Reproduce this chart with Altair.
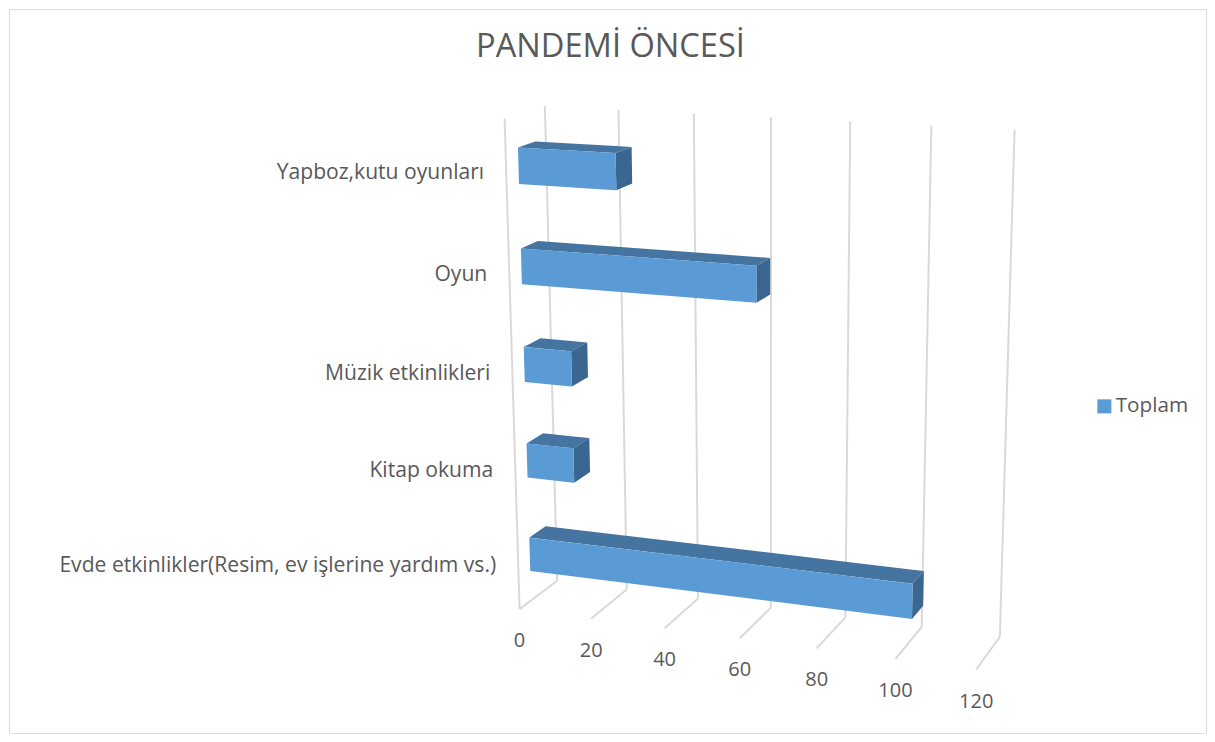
import numpy as np
import pandas as pd
import altair as alt

# ---- data
CATEGORIES = ["Evde etkinlikler(Resim, ev işlerine yardım vs.)", "Kitap okuma", "Müzik etkinlikleri", "Oyun", "Yapboz,kutu oyunları"]
VALUES = [102, 13, 13, 62, 26]
TICKS = [0, 20, 40, 60, 80, 100, 120]
SERIES = "Toplam"
TITLE = "PANDEMİ ÖNCESİ"

# ---- camera of the 3-D scene: (value, category height, depth) seen on the page
BACK_BOTTOM = [(557, 580), (627, 590), (698, 599), (771, 608), (846, 617), (922, 627), (999, 637)]
BACK_TOP = [(544.5, 106), (618, 110), (694, 113), (771.5, 117), (850.5, 121), (931.5, 125), (1013.7, 130)]
FRONT_BOTTOM = [(519.5, 608), (590.5, 619), (664, 628), (740, 638), (817, 648), (896, 659), (976, 670)]
FRONT_TOP_LEFT = (504.5, 118)
BAR_HALF, D0, D1 = 0.18, 0.27, 0.70
BAR_LEFT = [((538, 570.7), 529.8), ((444.3, 477.3), 527), ((347.3, 382), 524.3), ((249, 284), 521.6), ((147.7, 184), 518.6)]

cal = []
for t, a, b, c in zip(TICKS, BACK_BOTTOM, BACK_TOP, FRONT_BOTTOM):
    cal += [((t, 0, 0), a), ((t, 5, 0), b), ((t, 0, 1), c)]
cal.append(((0, 5, 1), FRONT_TOP_LEFT))
for i, ((top, bot), x) in enumerate(BAR_LEFT):
    cal += [((0, i + .5 + BAR_HALF, D1), (x, top)), ((0, i + .5 - BAR_HALF, D1), (x, bot))]
A, B = [], []
for (v, h, d), (x, y) in cal:
    A.append([v, h, d, 1, 0, 0, 0, 0, -x * v, -x * h, -x * d])
    B.append(x)
    A.append([0, 0, 0, 0, v, h, d, 1, -y * v, -y * h, -y * d])
    B.append(y)
sol = np.linalg.lstsq(np.array(A, float), np.array(B, float), rcond=None)[0]
P = np.append(sol, 1.0).reshape(3, 4)


def project(v, h, d):
    u = P @ np.array([v, h, d, 1.0])
    return float(u[0] / u[2]), float(u[1] / u[2])


def face_rows(pts, face):
    """Slice a convex quadrilateral into x / y / y2 rows for an area mark."""
    rows = []
    n = len(pts)
    for x in sorted({p[0] for p in pts}):
        ys = []
        for i in range(n):
            (x1, y1), (x2, y2) = pts[i], pts[(i + 1) % n]
            if min(x1, x2) <= x <= max(x1, x2):
                if x1 == x2:
                    ys += [y1, y2]
                else:
                    ys.append(y1 + (y2 - y1) * (x - x1) / (x2 - x1))
        rows.append({"face": face, "x": x, "y": min(ys), "y2": max(ys), "series": SERIES})
    return rows


front, top, side = [], [], []
for i, (cat, val) in enumerate(zip(CATEGORIES, VALUES)):
    lo, hi = i + .5 - BAR_HALF, i + .5 + BAR_HALF
    front += face_rows([project(0, hi, D1), project(val, hi, D1), project(val, lo, D1), project(0, lo, D1)], cat)
    top += face_rows([project(0, hi, D1), project(0, hi, D0), project(val, hi, D0), project(val, hi, D1)], cat)
    side += face_rows([project(val, hi, D1), project(val, hi, D0), project(val, lo, D0), project(val, lo, D1)], cat)

lines = []
for t in TICKS:
    a, b, c = project(t, 0, 0), project(t, 5, 0), project(t, 0, 1)
    lines.append({"x": a[0], "y": a[1], "x2": b[0], "y2": b[1]})
    lines.append({"x": a[0], "y": a[1], "x2": c[0], "y2": c[1]})
a, b = project(0, 0, 1), project(0, 5, 1)
lines.append({"x": a[0], "y": a[1], "x2": b[0], "y2": b[1]})

tick_df = pd.DataFrame([{"x": project(t, 0, 1)[0], "y": project(t, 0, 1)[1], "label": str(t)} for t in TICKS])
cat_df = pd.DataFrame([{"x": project(0, i + .5, 1)[0], "y": project(0, i + .5, 1)[1], "label": c} for i, c in enumerate(CATEGORIES)])

PAD = 1
W, H = 1197, 724
x_scale = alt.Scale(domain=[8 + PAD, 8 + PAD + W], range=[0, W], nice=False, zero=False)
y_scale = alt.Scale(domain=[8 + PAD, 8 + PAD + H], range=[0, H], nice=False, zero=False)
X = alt.X("x:Q", scale=x_scale, axis=None)
Y = alt.Y("y:Q", scale=y_scale, axis=None)

grid = alt.Chart(pd.DataFrame(lines)).mark_rule(color="#D9D9D9", strokeWidth=2).encode(
    x=X, y=Y, x2="x2:Q", y2="y2:Q")


def faces(rows, **enc):
    return alt.Chart(pd.DataFrame(rows)).mark_area(orient="vertical", **enc.pop("mark", {})).encode(
        x=X, y=Y, y2="y2:Q", detail="face:N", **enc)


top_l = faces(top, mark={"color": "#4674A1"})
side_l = faces(side, mark={"color": "#3B668F"})
front_l = faces(front, color=alt.Color("series:N", scale=alt.Scale(range=["#5B9BD5"]), legend=alt.Legend(
    orient="none", legendX=1085, legendY=387, title=None, symbolType="square", symbolSize=196,
    symbolStrokeWidth=0, labelFont="Open Sans", labelFontSize=20.7, labelColor="#595959", labelOffset=1)))

ticks = alt.Chart(tick_df).mark_text(font="Open Sans", fontSize=20, color="#595959", dy=32).encode(x=X, y=Y, text="label:N")
cats = alt.Chart(cat_df).mark_text(font="Open Sans", fontSize=21.1, color="#595959", align="right", dx=-22, dy=3).encode(
    x=X, y=Y, text="label:N")

chart = alt.layer(grid, top_l, side_l, front_l, ticks, cats).properties(
    width=W, height=H, padding=PAD, autosize=alt.AutoSizeParams(type="none"),
    title=alt.TitleParams(TITLE, font="Open Sans", fontSize=32.6, fontWeight="normal", color="#595959", anchor="middle",
                          frame="group", dy=59, dx=3),
).configure_view(stroke="#D9D9D9", strokeWidth=2).configure(background="white")

chart.save("out.html", embed_options={"renderer": "svg", "actions": False})
